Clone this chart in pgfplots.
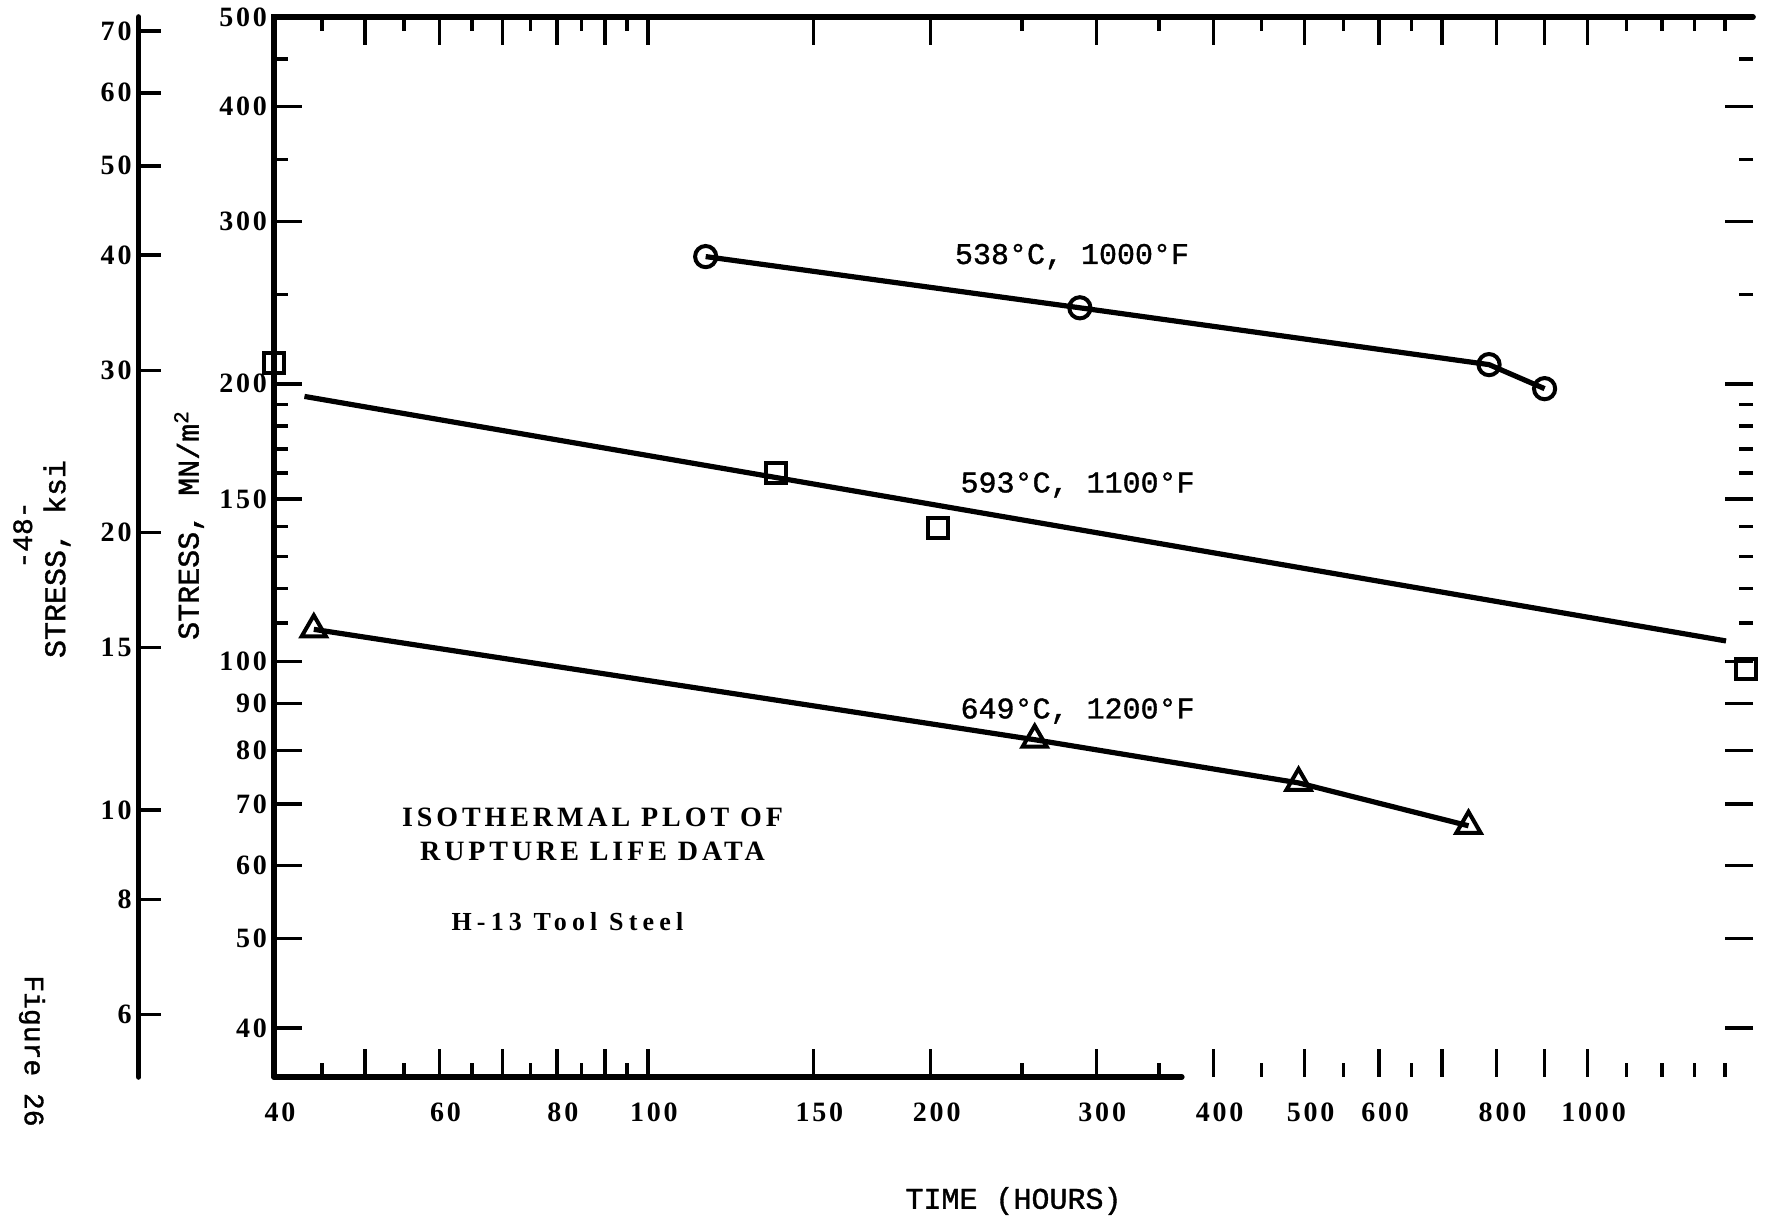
\documentclass[border=0pt]{standalone}
\usepackage{fontspec}
\setmainfont{Liberation Serif}
\newfontfamily\typew[FakeBold=1.2]{Liberation Mono}
\newfontfamily\wideserif[LetterSpace=14]{Liberation Serif}
\newfontfamily\widerserif[LetterSpace=20]{Liberation Serif}
\newfontfamily\tickserif[LetterSpace=10]{Liberation Serif}
\usepackage{pgfplots}
\pgfplotsset{compat=1.18}

\pgfplotsset{
  scanaxis/.style={
    scale only axis,
    tick align=inside,
    major tick length=14pt,
    minor tick length=7pt,
    tick style={black, line width=1.7pt},
    tick label style={font=\tickserif\bfseries\fontsize{14}{16}\selectfont},
    clip=false,
  },
}
\tikzset{scanmark/.style={solid, line width=2pt, fill=white}}

\begin{document}
\begin{tikzpicture}

% ---- main axis: time vs stress in MN/m^2 ---------------------------------
\begin{axis}[
  scanaxis,
  name=main,
  at={(0,0)}, anchor=south west,
  width=739.5pt, height=530pt,
  xmode=log, ymode=log,
  axis line style={draw=none},
  xmin=40, xmax=1500,
  ymin=35.4, ymax=500,
  xtick={40,50,60,70,80,90,100,150,200,300,400,500,600,700,800,900,1000},
  xticklabels={40,,60,,80,,100,150,200,300,400,500,600,,800,,1000},
  minor xtick={45,55,65,75,85,95,250,350,450,550,650,1100,1200,1300,1400},
  ytick={40,50,60,70,80,90,100,150,200,300,400,500},
  yticklabels={40,50,60,70,80,90,100,150,200,300,400,500},
  minor ytick={110,120,130,140,160,170,180,190,250,350,450},
  xticklabel style={yshift=-9.5pt, xshift=3pt},
]

% frame as in the scan: left and top full, bottom only up to ~370 h
\draw[line width=2.8pt, line cap=round]
  (axis cs:40,35.4) -- (axis cs:40,500) -- (axis cs:1500,500);
\draw[line width=2.8pt, line cap=round]
  (axis cs:40,35.4) -- (axis cs:370,35.4);

% 538 C, 1000 F
\addplot[black, line width=2.6pt, mark=o, mark size=5.3pt,
         mark options={scanmark}]
  coordinates {(115.2,274.8) (288.2,241.8) (785.6,209.8) (900,197.6)};

% 593 C, 1100 F : points and fitted line
\addplot[black, line width=2.6pt]
  coordinates {(43.1,193.8) (1404,105.2)};
\addplot[black, only marks, mark=square, mark size=5pt,
         mark options={scanmark}]
  coordinates {(40,210.4) (136.9,160.2) (203.7,139.4) (1476,98.0)};

% 649 C, 1200 F
\addplot[black, line width=2.6pt, mark=triangle, mark size=7pt,
         mark options={scanmark}]
  coordinates {(44.1,108.3) (258,82.2) (492.5,73.8) (747,66.3)};

\node[font=\typew\fontsize{15}{17}\selectfont] at (axis cs:282.7,274.8) {538°C, 1000°F};
\node[font=\typew\fontsize{15}{17}\selectfont] at (axis cs:286.6,155.3) {593°C, 1100°F};
\node[font=\typew\fontsize{15}{17}\selectfont] at (axis cs:286.6,88.3) {649°C, 1200°F};

\node[align=center, font=\wideserif\bfseries\fontsize{14}{17}\selectfont]
  at (axis cs:87.3,64.9) {ISOTHERMAL PLOT OF\\RUPTURE LIFE DATA};
\node[font=\widerserif\bfseries\fontsize{13}{15}\selectfont]
  at (axis cs:82.1,52.2) {H-13 Tool Steel};
\end{axis}

% ---- ksi scale: same log scale, values / 6.895 ----------------------------
\begin{axis}[
  scanaxis,
  at={(-67.7pt,0)}, anchor=south west,
  width=10pt, height=530pt,
  ymode=log,
  xmin=0, xmax=1,
  ymin=5.134, ymax=72.52,
  hide x axis,
  axis y line*=left,
  y axis line style={line width=2.8pt, line cap=round},
  major tick length=11pt,
  ytick={6,8,10,15,20,30,40,50,60,70},
  yticklabels={6,8,10,15,20,30,40,50,60,70},
]
\addplot[draw=none] coordinates {(0,10) (1,20)};
\end{axis}

% ---- labels and page marks (main axis box: 0..739.5pt x 0..530pt) ----------
\node[font=\typew\fontsize{15}{17}\selectfont] at (369.75pt,-62pt) {TIME (HOURS)};
\node[rotate=90, font=\typew\fontsize{15}{17}\selectfont]
  at (-42.5pt,276pt) {STRESS, MN/m\textsuperscript{2}};
\node[rotate=90, font=\typew\fontsize{15}{17}\selectfont]
  at (-108.5pt,259pt) {STRESS, ksi};
\node[rotate=90, font=\typew\fontsize{14}{16}\selectfont]
  at (-125.6pt,271pt) {-48-};
\node[rotate=-90, font=\typew\fontsize{14}{16}\selectfont]
  at (-121pt,13pt) {Figure 26};

\pgfresetboundingbox
\path[use as bounding box] (-137pt,-72pt) rectangle (753.5pt,538.5pt);
\end{tikzpicture}
\end{document}
